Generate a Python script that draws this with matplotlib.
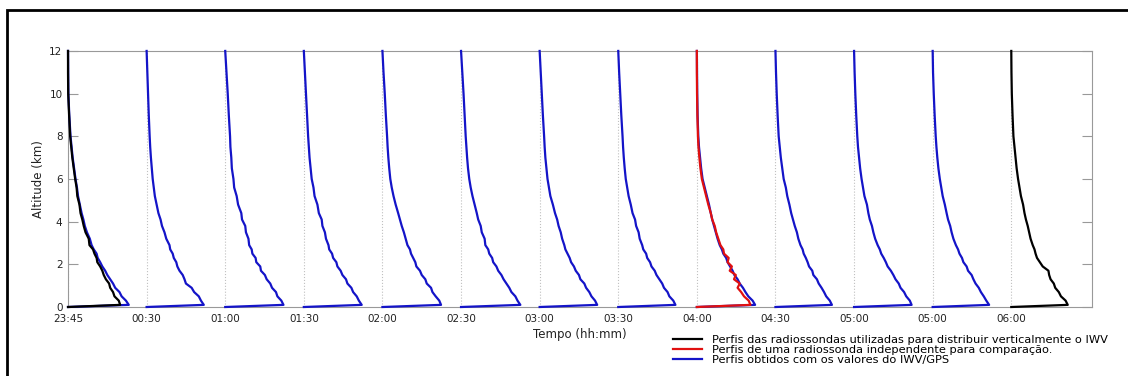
import numpy as np
import matplotlib.pyplot as plt
from matplotlib.patches import Rectangle

# altitude levels (km)
altitude = [0.0, 0.1, 0.3, 0.5, 0.7, 0.9, 1.1, 1.3, 1.5, 1.7, 1.9, 2.1, 2.3, 2.5, 2.7, 2.9,
            3.2, 3.5, 3.8, 4.1, 4.4, 4.8, 5.2, 5.6, 6.0, 6.5, 7.0, 7.5, 8.0, 9.0, 10.0, 11.0, 12.0]

time_labels = ['23:45', '00:30', '01:00', '01:30', '02:00', '02:30', '03:00',
               '03:30', '04:00', '04:30', '05:00', '05:00', '06:00']

# vapour density profiles (g/m3) obtained from IWV/GPS, one per time slot
blue_2345 = [0, 17.0, 16.2, 15.0, 14.4, 13.2, 12.6, 11.8, 11.0, 10.4, 9.6, 9.0, 8.3, 8.0, 7.2, 6.6,
             6.1, 5.3, 4.7, 4.3, 3.8, 3.3, 2.8, 2.5, 2.1, 1.7, 1.3, 1.0, 0.7, 0.35, 0.1, 0.05, 0.0]
blue_0030 = [0, 16.0, 15.2, 14.6, 13.3, 12.6, 11.0, 10.6, 10.1, 9.2, 8.6, 8.3, 7.6, 7.3, 6.6, 6.4,
             5.5, 5.0, 4.3, 3.9, 3.3, 2.8, 2.3, 2.0, 1.7, 1.45, 1.2, 1.0, 0.85, 0.6, 0.4, 0.2, 0.0]
blue_0100 = [0, 16.3, 15.7, 14.6, 14.2, 13.1, 12.6, 11.6, 11.1, 10.0, 9.8, 8.7, 8.5, 7.6, 7.4, 6.7,
             6.5, 5.8, 5.6, 4.7, 4.5, 3.6, 3.2, 2.5, 2.3, 1.85, 1.7, 1.45, 1.35, 1.0, 0.7, 0.35, 0.0]
blue_0130 = [0, 16.2, 15.4, 14.8, 13.8, 13.3, 12.2, 11.8, 10.8, 10.3, 9.4, 9.1, 8.2, 7.9, 7.1, 6.9,
             6.2, 5.9, 5.2, 5.0, 4.2, 3.8, 3.0, 2.7, 2.2, 1.9, 1.6, 1.4, 1.2, 0.9, 0.6, 0.3, 0.0]
blue_0200 = [0, 16.4, 15.9, 14.9, 14.0, 13.6, 12.4, 12.0, 11.0, 10.5, 9.5, 9.2, 8.6, 8.0, 7.7, 7.0,
             6.5, 6.0, 5.4, 4.9, 4.4, 3.7, 3.1, 2.6, 2.2, 1.9, 1.65, 1.45, 1.3, 0.95, 0.65, 0.3, 0.0]
blue_0230 = [0, 16.6, 15.8, 15.2, 14.1, 13.5, 12.7, 11.9, 11.3, 10.4, 9.9, 9.0, 8.7, 7.9, 7.6, 6.8,
             6.6, 5.8, 5.5, 4.8, 4.4, 3.8, 3.2, 2.7, 2.3, 1.95, 1.7, 1.5, 1.3, 1.0, 0.7, 0.35, 0.0]
blue_0300 = [0, 16.1, 15.5, 14.5, 13.9, 13.0, 12.5, 11.4, 11.0, 10.1, 9.6, 8.8, 8.4, 7.8, 7.2, 6.9,
             6.3, 5.9, 5.3, 4.9, 4.3, 3.7, 3.0, 2.6, 2.2, 1.9, 1.6, 1.4, 1.25, 0.9, 0.6, 0.3, 0.0]
blue_0330 = [0, 16.0, 15.4, 14.3, 13.8, 12.8, 12.3, 11.5, 10.7, 10.2, 9.3, 8.9, 8.1, 7.8, 7.0, 6.7,
             6.0, 5.7, 5.0, 4.7, 4.0, 3.5, 2.9, 2.5, 2.1, 1.8, 1.55, 1.35, 1.2, 0.85, 0.55, 0.25, 0.0]
blue_0400 = [0, 16.3, 15.6, 14.4, 13.6, 12.9, 12.0, 11.4, 10.5, 10.0, 9.3, 8.6, 8.2, 7.4, 7.0, 6.4,
             5.8, 5.3, 4.8, 4.3, 3.9, 3.4, 2.8, 2.2, 1.6, 1.2, 0.9, 0.6, 0.4, 0.2, 0.1, 0.05, 0.0]
blue_0430 = [0, 15.8, 15.2, 14.2, 13.6, 12.9, 12.1, 11.6, 10.6, 10.3, 9.4, 9.0, 8.5, 7.9, 7.6, 7.0,
             6.4, 6.0, 5.4, 4.9, 4.4, 3.9, 3.3, 2.9, 2.3, 1.9, 1.5, 1.2, 0.9, 0.6, 0.35, 0.15, 0.0]
blue_0500 = [0, 16.1, 15.6, 14.6, 14.0, 13.0, 12.5, 11.6, 11.0, 10.3, 9.4, 8.9, 8.3, 7.6, 7.2, 6.6,
             5.9, 5.4, 5.0, 4.4, 4.0, 3.6, 2.9, 2.5, 2.1, 1.7, 1.4, 1.1, 0.9, 0.6, 0.35, 0.15, 0.0]
blue_0530 = [0, 15.8, 15.0, 14.3, 13.5, 12.9, 12.0, 11.4, 10.9, 9.9, 9.5, 8.6, 8.2, 7.5, 7.1, 6.5,
             5.8, 5.3, 4.9, 4.3, 3.9, 3.4, 2.8, 2.4, 2.0, 1.6, 1.3, 1.05, 0.85, 0.55, 0.3, 0.1, 0.0]

# radiosondes used to distribute the IWV vertically
black_2345 = [0, 14.6, 14.2, 13.0, 12.6, 11.8, 11.5, 10.6, 10.0, 9.6, 9.0, 8.2, 8.0, 7.4, 7.0, 6.0,
              5.8, 4.9, 4.4, 4.0, 3.5, 3.2, 2.6, 2.4, 2.0, 1.6, 1.2, 0.9, 0.6, 0.3, 0.05, 0.0, 0.0]
black_0600 = [0, 15.8, 15.2, 13.9, 13.3, 12.3, 11.9, 11.0, 10.6, 10.4, 8.8, 8.0, 7.2, 6.8, 6.5, 6.0,
              5.4, 5.0, 4.6, 4.1, 3.7, 3.3, 2.7, 2.3, 1.9, 1.5, 1.2, 0.9, 0.6, 0.35, 0.15, 0.05, 0.0]

# independent radiosonde for comparison (04:00)
red_0400 = [0, 15.0, 14.5, 13.2, 12.4, 11.4, 12.0, 10.4, 10.9, 9.2, 9.8, 8.6, 8.9, 7.6, 7.4, 6.6,
            6.0, 5.4, 5.0, 4.3, 3.9, 3.2, 2.6, 2.0, 1.4, 1.0, 0.7, 0.45, 0.3, 0.15, 0.05, 0.0, 0.0]

blue_profiles = [blue_2345, blue_0030, blue_0100, blue_0130, blue_0200, blue_0230,
                 blue_0300, blue_0330, blue_0400, blue_0430, blue_0500, blue_0530]
black_profiles = {0: black_2345, 12: black_0600}
red_profiles = {8: red_0400}

SCALE = 1 / 22.0  # tick spacing per g/m3
BLUE = '#1414c8'
RED = '#e01010'

fig = plt.figure(figsize=(11.28, 3.76), dpi=100)
ax = fig.add_axes([0.0603, 0.1835, 0.908, 0.681])

z = np.array(altitude)
for i, prof in enumerate(blue_profiles):
    ax.plot(i + np.array(prof) * SCALE, z, color=BLUE, lw=1.6, clip_on=False, zorder=3)
for i, prof in red_profiles.items():
    ax.plot(i + np.array(prof) * SCALE, z, color=RED, lw=1.6, clip_on=False, zorder=4)
for i, prof in black_profiles.items():
    ax.plot(i + np.array(prof) * SCALE, z, color='black', lw=1.6, clip_on=False, zorder=4)

ax.set_xlim(0, 13.03)
ax.set_ylim(0, 12)
ax.set_xticks(range(len(time_labels)))
ax.set_xticklabels(time_labels)
ax.set_yticks(range(0, 13, 2))
ax.grid(axis='x', color='#c0c0c0', linestyle=':', linewidth=0.8)
ax.tick_params(axis='x', length=0, labelsize=7.5, pad=5, colors='#222222')
ax.tick_params(axis='y', direction='in', length=7, width=0.8, labelsize=7.5,
               right=True, color='#999999', labelcolor='#222222', pad=4)
for s in ax.spines.values():
    s.set_color('#999999')
    s.set_linewidth(0.8)

ax.set_xlabel('Tempo (hh:mm)', fontsize=8.5, color='#222222', labelpad=3)
ax.set_ylabel('Altitude (km)', fontsize=8.5, color='#222222', labelpad=3)

h_black, = ax.plot([], [], color='black', lw=1.6)
h_red, = ax.plot([], [], color=RED, lw=1.6)
h_blue, = ax.plot([], [], color=BLUE, lw=1.6)
fig.legend([h_black, h_red, h_blue],
           ['Perfis das radiossondas utilizadas para distribuir verticalmente o IWV',
            'Perfis de uma radiossonda independente para comparação.',
            'Perfis obtidos com os valores do IWV/GPS'],
           loc='upper left', bbox_to_anchor=(0.597, 0.109), frameon=False,
           fontsize=8.2, handlelength=2.5, handletextpad=0.9, labelspacing=0.02,
           borderpad=0, borderaxespad=0)

fig.add_artist(Rectangle((7 / 1128, -0.1), 1.2, 1 - 10 / 376 + 0.1, transform=fig.transFigure,
                         fill=False, edgecolor='black', linewidth=2))

fig.savefig('out.png', dpi=100)
